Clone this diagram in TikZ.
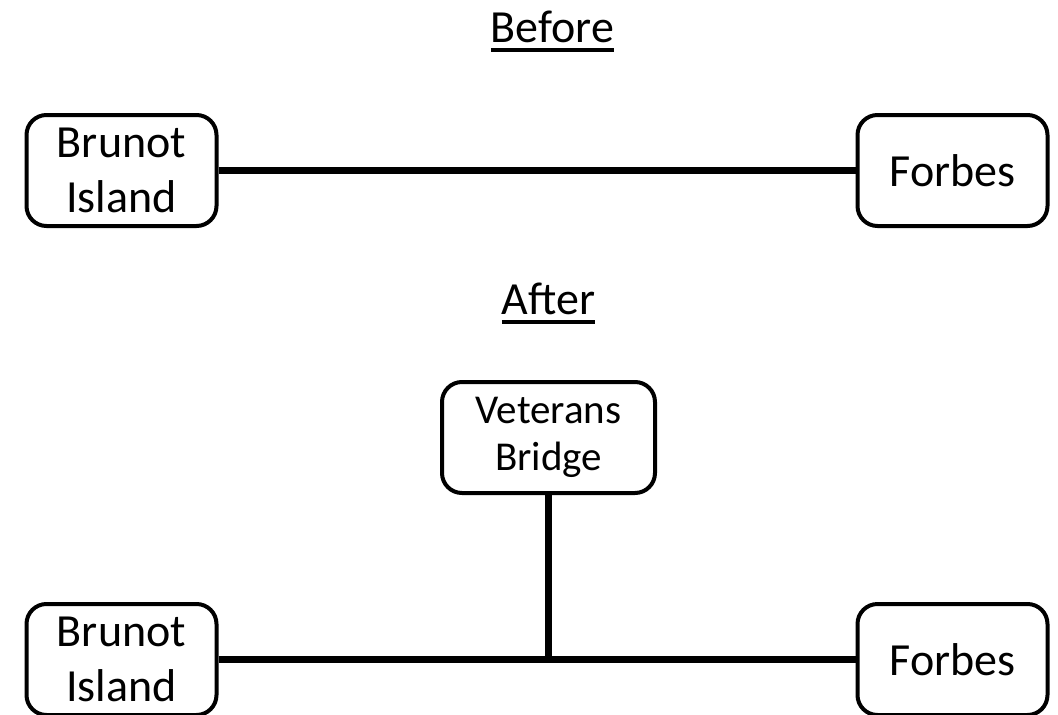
\documentclass[tikz,border=0pt]{standalone}
\usepackage{fontspec}
\setmainfont{Carlito}
\usepackage{tikz}
\tikzset{place/.style = {draw, rounded corners = 20pt, line width = 4pt, align = center,
    minimum width = 190pt, minimum height = 111pt, inner sep = 0,
    font = \fontsize{46}{55}\selectfont}}
\tikzset{title/.style = {anchor = base, inner sep = 0, font = \fontsize{46}{55}\selectfont}}
\tikzset{road/.style = {line width = 7.5pt}}
\newcommand{\ulined}[1]{\setbox0\hbox{#1}\rlap{\raisebox{-10pt}{\rule{\wd0}{4pt}}}\box0}

\begin{document}
\begin{tikzpicture}[x=10pt, y=-10pt]
      \useasboundingbox (0, 0) rectangle (105.8, 71.5);
      % before
      \node [title] (before) at (55.25, 4.2) {\ulined{Before}};
      \node [place] (brunot1) at (12.15, 17.05) {Brunot\\Island};
      \node [place] (forbes1) at (95.25, 17.05) {Forbes};
      \draw [road] (brunot1) -- (forbes1);
      % after
      \begin{scope}[shift={(0, 0)}]
        \node [title] (after) at (54.85, 31.4) {\ulined{After}};
        \node [place, minimum width = 213pt, font = \fontsize{41}{47}\selectfont]
          (veterans) at (54.85, 43.75) {Veterans\\Bridge};
        \node [place] (brunot2) at (12.15, 65.95) {Brunot\\Island};
        \node [place] (forbes2) at (95.25, 65.95) {Forbes};
        \coordinate (junction) at (veterans |- brunot2);
        \draw [road] (brunot2) -- (forbes2);
        \draw [road] (veterans) -- (junction);
      \end{scope}
    \end{tikzpicture}
\end{document}
